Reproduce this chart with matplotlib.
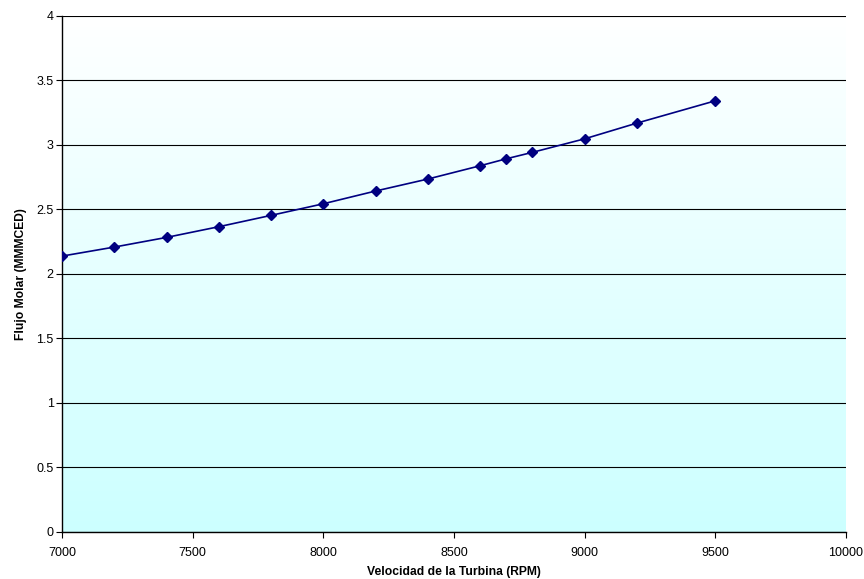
import numpy as np
import matplotlib
matplotlib.use("Agg")
import matplotlib.pyplot as plt

plt.rcParams["font.family"] = ["Liberation Sans", "DejaVu Sans"]

rpm = [7000, 7200, 7400, 7600, 7800, 8000, 8200, 8400, 8600, 8700, 8800, 9000, 9200, 9500]
flujo = [2.137, 2.207, 2.282, 2.365, 2.453, 2.543, 2.642, 2.735, 2.838, 2.892, 2.942, 3.047, 3.169, 3.342]

fig = plt.figure(figsize=(8.64, 5.79), dpi=100)
ax = fig.add_axes([0.0718, 0.082, 0.9074, 0.8904])

# white-to-cyan gradient background
grad = np.linspace(0, 1, 256).reshape(-1, 1)
cmap = matplotlib.colors.LinearSegmentedColormap.from_list("bg", ["#FFFFFF", "#CCFFFF"])
ax.imshow(grad, aspect="auto", cmap=cmap, extent=[0, 1, 0, 1],
          transform=ax.transAxes, zorder=0)

ax.plot(rpm, flujo, color="#000080", lw=1.2, marker="D", ms=5,
        markerfacecolor="#000080", markeredgecolor="#000080", zorder=3)

ax.set_xlim(7000, 10000)
ax.set_ylim(0, 4)
ax.set_xticks(np.arange(7000, 10001, 500))
ax.set_yticks(np.arange(0, 4.01, 0.5))
ax.set_yticklabels(["0", "0.5", "1", "1.5", "2", "2.5", "3", "3.5", "4"])
ax.grid(axis="y", color="black", lw=0.8, zorder=1)
ax.set_axisbelow(False)

for s in ["top", "right"]:
    ax.spines[s].set_visible(False)
ax.spines["left"].set_linewidth(1.0)
ax.spines["bottom"].set_linewidth(1.0)
ax.tick_params(labelsize=9, length=4, width=0.8, direction="out", pad=2)
ax.tick_params(axis="x", pad=7)

ax.set_xlabel("Velocidad de la Turbina (RPM)", fontsize=8.7, fontweight="bold", labelpad=5)
ax.set_ylabel("Flujo Molar (MMMCED)", fontsize=8.7, fontweight="bold", labelpad=7)

plt.savefig("out.png", dpi=100)
